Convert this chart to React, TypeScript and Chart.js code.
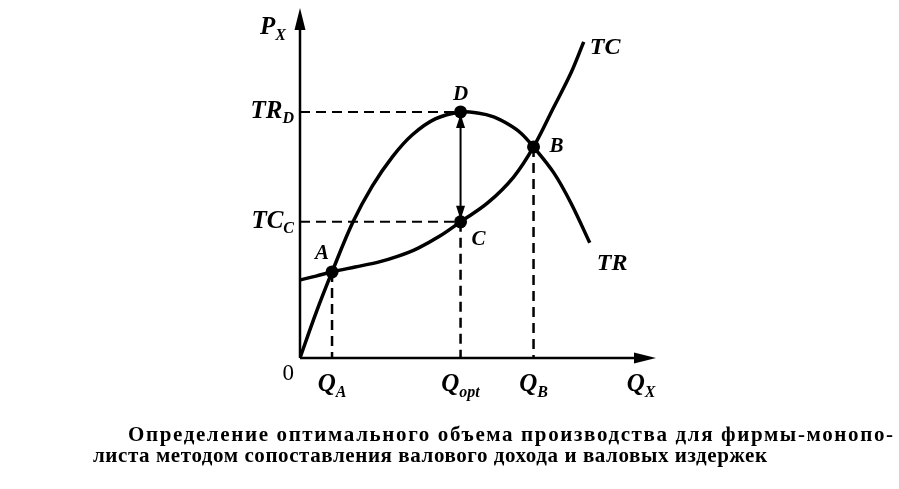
import React, { useEffect, useRef } from "react";
import { Chart, registerables } from "chart.js";

Chart.register(...registerables);

// Total revenue curve (TR): output vs revenue, in chart units
const trX = [0, 4.5, 9.0, 14.9, 20.3, 25.9, 31.5, 38.0, 45.1, 49.9, 54.4, 58.3, 62.0, 65.6, 71.3, 76.1, 81.4];
const trY = [0, 12.9, 24.6, 38.9, 49.1, 57.4, 63.7, 68.3, 70.3, 70.0, 68.9, 66.9, 64.3, 60.3, 52.9, 44.3, 32.9];

// Total cost curve (TC)
const tcX = [0, 4.5, 9.0, 15.5, 22.0, 27.6, 33.2, 39.4, 45.1, 52.7, 60.0, 65.6, 71.3, 76.1, 79.7];
const tcY = [22.3, 23.4, 24.6, 26.0, 27.4, 29.1, 31.4, 34.9, 38.9, 44.3, 51.7, 60.3, 71.7, 81.4, 90.3];

// Marked points A, D, C, B
const pointNames = ["A", "D", "C", "B"];
const pointX = [9.0, 45.1, 45.1, 65.6];
const pointY = [24.6, 70.3, 38.9, 60.3];

// Axis tick labels (main letter + subscript)
const xLabelMain = ["Q", "Q", "Q", "Q"];
const xLabelSub = ["A", "opt", "B", "X"];
const xLabelAt = [9.0, 45.1, 65.6, 95.8];
const yLabelMain = ["TR", "TC"];
const yLabelSub = ["D", "C"];
const yLabelAt = [70.3, 38.9];

const curveNames = ["TR", "TC"];

const captionLines = [
  "Определение оптимального объема производства для фирмы-монопо-",
  "листа методом сопоставления валового дохода и валовых издержек",
];

const SERIF = '"Liberation Serif", "DejaVu Serif", serif';

function toXY(xs: number[], ys: number[]) {
  return xs.map((x, i) => ({ x, y: ys[i] }));
}

function drawSubLabel(
  ctx: CanvasRenderingContext2D,
  main: string,
  sub: string,
  x: number,
  y: number,
  size: number,
  align: "left" | "right" | "center"
) {
  const mainFont = `italic bold ${size}px ${SERIF}`;
  const subFont = `italic bold ${Math.round(size * 0.62)}px ${SERIF}`;
  ctx.font = mainFont;
  const mw = ctx.measureText(main).width;
  ctx.font = subFont;
  const sw = ctx.measureText(sub).width;
  const total = mw + sw;
  const left = align === "right" ? x - total : align === "center" ? x - total / 2 : x;
  ctx.textAlign = "left";
  ctx.textBaseline = "alphabetic";
  ctx.font = mainFont;
  ctx.fillText(main, left, y);
  ctx.font = subFont;
  ctx.fillText(sub, left + mw, y + size * 0.22);
}

const diagramPlugin = {
  id: "diagram",
  beforeDatasetsDraw(chart: any) {
    const { ctx, scales } = chart;
    const xs = scales.x;
    const ys = scales.y;
    const x0 = xs.getPixelForValue(0);
    const y0 = ys.getPixelForValue(0);
    const xEnd = xs.getPixelForValue(xs.max);
    const yEnd = ys.getPixelForValue(ys.max);
    ctx.save();
    ctx.strokeStyle = "#000";
    ctx.fillStyle = "#000";
    ctx.lineWidth = 2.5;
    // axes
    ctx.beginPath();
    ctx.moveTo(x0, y0);
    ctx.lineTo(x0, yEnd + 16);
    ctx.moveTo(x0, y0);
    ctx.lineTo(xEnd - 16, y0);
    ctx.stroke();
    // arrowheads
    ctx.beginPath();
    ctx.moveTo(x0, yEnd);
    ctx.lineTo(x0 - 5.5, yEnd + 22);
    ctx.lineTo(x0 + 5.5, yEnd + 22);
    ctx.closePath();
    ctx.fill();
    ctx.beginPath();
    ctx.moveTo(xEnd, y0);
    ctx.lineTo(xEnd - 22, y0 - 5.5);
    ctx.lineTo(xEnd - 22, y0 + 5.5);
    ctx.closePath();
    ctx.fill();
    ctx.restore();
  },
  afterDatasetsDraw(chart: any) {
    const { ctx, scales } = chart;
    const xs = scales.x;
    const ys = scales.y;
    const x0 = xs.getPixelForValue(0);
    const y0 = ys.getPixelForValue(0);
    ctx.save();
    ctx.fillStyle = "#000";

    // double arrow heads between D and C
    const ax = xs.getPixelForValue(pointX[1]);
    const aTop = ys.getPixelForValue(pointY[1]);
    const aBot = ys.getPixelForValue(pointY[2]);
    ctx.beginPath();
    ctx.moveTo(ax, aTop + 2);
    ctx.lineTo(ax - 4.5, aTop + 16);
    ctx.lineTo(ax + 4.5, aTop + 16);
    ctx.closePath();
    ctx.fill();
    ctx.beginPath();
    ctx.moveTo(ax, aBot - 2);
    ctx.lineTo(ax - 4.5, aBot - 16);
    ctx.lineTo(ax + 4.5, aBot - 16);
    ctx.closePath();
    ctx.fill();

    // origin
    ctx.font = `23px ${SERIF}`;
    ctx.textAlign = "right";
    ctx.textBaseline = "alphabetic";
    ctx.fillText("0", x0 - 6, y0 + 22);

    // x tick labels
    xLabelMain.forEach((m, i) => {
      drawSubLabel(ctx, m, xLabelSub[i], xs.getPixelForValue(xLabelAt[i]), y0 + 33, 25, "center");
    });
    // y tick labels
    yLabelMain.forEach((m, i) => {
      drawSubLabel(ctx, m, yLabelSub[i], x0 - 6, ys.getPixelForValue(yLabelAt[i]) + 6, 25, "right");
    });
    // y axis title
    drawSubLabel(ctx, "P", "X", x0 - 14, ys.getPixelForValue(ys.max) + 26, 25, "right");

    // point names
    ctx.font = `italic bold 21px ${SERIF}`;
    ctx.textBaseline = "alphabetic";
    const offs = [
      [-3, -13, "right"],
      [0, -12, "center"],
      [11, 23, "left"],
      [16, 5, "left"],
    ];
    pointNames.forEach((n, i) => {
      const px = xs.getPixelForValue(pointX[i]);
      const py = ys.getPixelForValue(pointY[i]);
      const [dx, dy, al] = offs[i] as [number, number, CanvasTextAlign];
      ctx.textAlign = al;
      ctx.fillText(n, px + dx, py + dy);
    });

    // curve names at the ends of the curves
    ctx.font = `italic bold 24px ${SERIF}`;
    ctx.textAlign = "left";
    const trEndX = xs.getPixelForValue(trX[trX.length - 1]);
    const trEndY = ys.getPixelForValue(trY[trY.length - 1]);
    ctx.fillText(curveNames[0], trEndX + 7, trEndY + 27);
    const tcEndX = xs.getPixelForValue(tcX[tcX.length - 1]);
    const tcEndY = ys.getPixelForValue(tcY[tcY.length - 1]);
    ctx.fillText(curveNames[1], tcEndX + 6, tcEndY + 12);

    // caption
    const lines = [
      { text: captionLines[0], left: 128, right: 893, base: 441 },
      { text: captionLines[1], left: 93, right: 767, base: 462 },
    ];
    ctx.font = `bold 21px ${SERIF}`;
    ctx.textAlign = "left";
    lines.forEach((l) => {
      (ctx as any).letterSpacing = "0px";
      const w = ctx.measureText(l.text).width;
      const n = l.text.length;
      const sp = (l.right - l.left - w) / (n - 1);
      (ctx as any).letterSpacing = `${sp}px`;
      ctx.fillText(l.text, l.left, l.base);
    });
    (ctx as any).letterSpacing = "0px";
    ctx.restore();
  },
};

function seg(x1: number, y1: number, x2: number, y2: number, order: number, dash: number[], width: number) {
  return {
    data: [
      { x: x1, y: y1 },
      { x: x2, y: y2 },
    ],
    borderColor: "#000",
    borderWidth: width,
    borderDash: dash,
    pointRadius: 0,
    fill: false,
    tension: 0,
    order,
  };
}

export default function App() {
  const ref = useRef<HTMLCanvasElement | null>(null);

  useEffect(() => {
    if (!ref.current) return;
    const dash = [10, 6];
    const chart = new Chart(ref.current, {
      type: "line",
      data: {
        datasets: [
          {
            label: "points",
            data: toXY(pointX, pointY),
            showLine: false,
            pointRadius: 6.5,
            pointBackgroundColor: "#000",
            pointBorderColor: "#000",
            pointBorderWidth: 0,
            order: 0,
          } as any,
          {
            label: curveNames[0],
            data: toXY(trX, trY),
            borderColor: "#000",
            borderWidth: 3.5,
            pointRadius: 0,
            tension: 0.35,
            fill: false,
            order: 1,
          },
          {
            label: curveNames[1],
            data: toXY(tcX, tcY),
            borderColor: "#000",
            borderWidth: 3.5,
            pointRadius: 0,
            tension: 0.35,
            fill: false,
            order: 1,
          },
          // D–C arrow shaft
          seg(pointX[1], pointY[1], pointX[2], pointY[2], 1, [], 2),
          // dashed guides
          seg(0, pointY[1], pointX[1], pointY[1], 2, dash, 2),
          seg(0, pointY[2], pointX[2], pointY[2], 2, dash, 2),
          seg(pointX[0], pointY[0], pointX[0], 0, 2, dash, 2.5),
          seg(pointX[2], pointY[2], pointX[2], 0, 2, dash, 2.5),
          seg(pointX[3], pointY[3], pointX[3], 0, 2, dash, 2.5),
        ] as any,
      },
      options: {
        responsive: false,
        animation: false,
        events: [],
        layout: { padding: { left: 300, right: 243, top: 8, bottom: 131 } },
        plugins: {
          legend: { display: false },
          tooltip: { enabled: false },
          title: { display: false },
        },
        scales: {
          x: { type: "linear", min: 0, max: 100, display: false },
          y: { type: "linear", min: 0, max: 100, display: false },
        },
      },
      plugins: [diagramPlugin],
    });
    return () => chart.destroy();
  }, []);

  return (
    <div style={{ position: "fixed", left: 0, top: 0, width: 899, height: 489, background: "#fff" }}>
      <canvas ref={ref} width={899} height={489} style={{ display: "block" }} />
    </div>
  );
}
